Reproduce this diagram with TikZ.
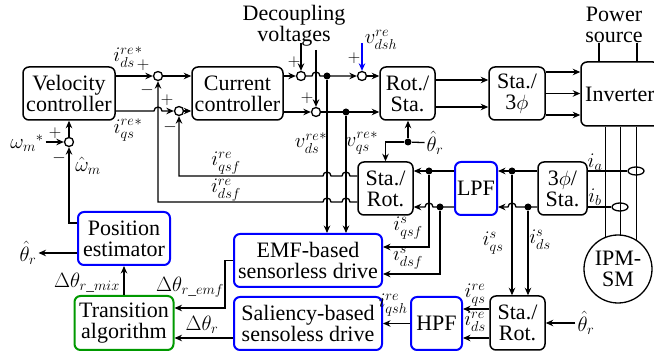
\documentclass[tikz,border=0pt]{standalone}
\usepackage{fontspec}
\setmainfont{Liberation Serif}
\usepackage{amsmath}
\usepackage{tikz}
\usetikzlibrary{arrows.meta, calc, positioning, backgrounds, shapes.geometric}

\tikzset{
  blk/.style={draw, rounded corners=6pt, align=center, inner sep=1pt, line width=1.5pt},
  bleu/.style={blk, draw=blue, line width=2pt},
  vert/.style={blk, draw=green!60!black, line width=2pt},
  somme/.style={draw, circle, minimum size=9pt, inner sep=0pt},
  jonction/.style={fill, circle, minimum size=7pt, inner sep=0pt},
  lab/.style={inner sep=1.5pt},
  signe/.style={inner sep=0pt, font=\fontsize{18}{18}\selectfont},
  capteur/.style={draw, ellipse, minimum width=16pt, minimum height=8pt, inner sep=0pt},
}

\begin{document}
\begin{tikzpicture}[x=1pt,y=-1pt,>={Stealth[length=7.5pt,width=6.5pt]},line width=1.3pt,font=\fontsize{22}{21}\selectfont]
            \useasboundingbox (0,0) rectangle (654,358);
            \clip (0,0) rectangle (654,358);

            % Blocs
            \node[blk, minimum width=92pt, minimum height=53pt] (vc) at (69,93.5) {Velocity\\controller};
            \node[blk, minimum width=91pt, minimum height=53pt] (cc) at (237.5,93.5) {Current\\controller};
            \node[blk, minimum width=55pt, minimum height=53pt] (rs) at (407.5,93.5) {Rot./\\Sta.};
            \node[blk, minimum width=56pt, minimum height=53pt] (s3) at (517,93.5) {Sta./\\3$\phi$};
            \node[blk, minimum width=78pt, minimum height=64pt] (inv) at (620,94) {Inverter};
            \node[blk, minimum width=55pt, minimum height=53pt] (sr1) at (385.5,188.5) {Sta./\\Rot.};
            \node[bleu, minimum width=42pt, minimum height=53pt] (lpf) at (476,188.5) {LPF};
            \node[blk, minimum width=49pt, minimum height=53pt] (s3b) at (562.5,188.5) {3$\phi$/\\Sta.};
            \node[blk, minimum width=55pt, minimum height=54pt] (sr2) at (517.5,323) {Sta./\\Rot.};
            \node[bleu, minimum width=51pt, minimum height=53pt] (hpf) at (436.5,323.5) {HPF};
            \node[bleu, minimum width=148pt, minimum height=53pt] (emf) at (308,260.5) {EMF-based\\sensorless drive};
            \node[bleu, minimum width=148pt, minimum height=53pt] (sal) at (308,323.5) {Saliency-based\\sensoless drive};
            \node[bleu, minimum width=92pt, minimum height=53pt] (pe) at (124,238.5) {Position\\estimator};
            \node[vert, minimum width=99pt, minimum height=54pt] (ta) at (124,323) {Transition\\algorithm};
            \node[draw, circle, minimum size=68pt, inner sep=0pt, align=center, fill=white] (mot) at (618,269) {IPM-\\SM};

            % Sommateurs et points
            \node[somme] (sd) at (158,76) {};
            \node[somme] (sq) at (179,111) {};
            \node[somme] (sw) at (69,142) {};
            \node[somme] (dd) at (301,76) {};
            \node[somme] (dq) at (316,112) {};
            \node[somme] (dh) at (362,76) {};
            \node[jonction] (p1) at (327,76) {};
            \node[jonction] (p2) at (346,112) {};
            \node[jonction] (p3) at (408,142) {};
            \node[jonction] (p4) at (429,171) {};
            \node[jonction] (p5) at (440,207) {};
            \node[jonction] (p6) at (512,171) {};
            \node[jonction] (p7) at (528,207) {};
            \node[capteur] (ca) at (636,171) {};
            \node[capteur] (cb) at (620,207) {};

            % Textes
            \node[align=center, inner sep=0pt] (dv) at (294,26) {Decoupling\\voltages};
            \node[align=center, inner sep=0pt] (ps) at (614,25) {Power\\source};
            \node[lab] (wm) at (27,143) {${\omega_m}^{*}$};
            \node[lab] (wh) at (88,166) {$\hat{\omega}_m$};
            \node[lab] (lidr) at (128,57) {${i_{ds}^{re}}^{*}$};
            \node[lab] (liqr) at (128,130) {${i_{qs}^{re}}^{*}$};
            \node[lab] (vh) at (381,40) {$v_{dsh}^{re}$};
            \node[lab] (lvd) at (311,143) {${v_{ds}^{re}}^{*}$};
            \node[lab] (lvq) at (362,143) {${v_{qs}^{re}}^{*}$};
            \node[lab] (liqf) at (226,163) {$i_{qsf}^{re}$};
            \node[lab] (lidf) at (226,190) {$i_{dsf}^{re}$};
            \node[lab] (liqfs) at (408,228) {$i_{qsf}^{s}$};
            \node[lab] (lidfs) at (408,258) {$i_{dsf}^{s}$};
            \node[lab] (liqs) at (493,243) {$i_{qs}^{s}$};
            \node[lab] (lids) at (540,240) {$i_{ds}^{s}$};
            \node[lab] (liqr2) at (475,295) {$i_{qs}^{re}$};
            \node[lab] (lidr2) at (475,322) {$i_{ds}^{re}$};
            \node[lab] (liqh) at (393,305) {$i_{qsh}^{re}$};
            \node[lab] (lia) at (595,162) {$i_a$};
            \node[lab] (lib) at (595,197) {$i_b$};
            \node[lab] (th1) at (435,143) {$\hat{\theta}_r$};
            \node[lab] (th2) at (28,253) {$\hat{\theta}_r$};
            \node[lab] (th3) at (586,323) {$\hat{\theta}_r$};
            \node[lab] (ldemf) at (190,287) {$\Delta\theta_{r\text{\_}emf}$};
            \node[lab] (ldmix) at (87,283) {$\Delta\theta_{r\text{\_}mix}$};
            \node[lab] (ldr) at (202,325) {$\Delta\theta_r$};
            \node[signe] (s1) at (143,65) {$+$};
            \node[signe] (s2) at (147,90) {$-$};
            \node[signe] (s3s) at (167,100) {$+$};
            \node[signe] (s4) at (170,127) {$-$};
            \node[signe] (s5) at (55,133) {$+$};
            \node[signe] (s6) at (59,158) {$-$};
            \node[signe] (s7) at (294,62) {$+$};
            \node[signe] (s8) at (307,98) {$+$};
            \node[signe] (s9) at (354,58) {$+$};

            % Boucle de vitesse
            \draw[->] (wm.east |- sw) -- (sw);
            \draw[->] (sw) -- (vc);
            \draw[->] ($(pe.west)+(0,-15.5)$) -| (sw);
            \draw[->] ($(pe.west)+(0,14.5)$) -- (th2);
            \draw[->] (ta) -- (pe);
            \draw[->] (vc.east |- sd) -- (sd);
            \draw[->] (vc.east |- sq) -- ($(sd |- sq)+(-4,0)$) arc(180:360:4) -- (sq);
            \draw[->] (sd) -- (cc.west |- sd);
            \draw[->] (sq) -- (cc.west |- sq);

            % Découplage et tensions
            \draw[->] (cc.east |- dd) -- (dd);
            \draw[->] (cc.east |- dq) -- (dq);
            \draw[->] ($(dd)+(0,-33)$) -- (dd);
            \draw[->] ($(dq)+(0,-62)$) -- (dq);
            \draw[->, blue] ($(dh)+(0,-33)$) -- (dh);
            \draw[->] (dd) -- ($(dq |- dd)+(-4,0)$) arc(180:360:4) -- (dh);
            \draw[->] (dh) -- (rs.west |- dh);
            \draw[->] (dq) -- (rs.west |- dq);
            \draw[->] (p1) -- (p1 |- emf.north);
            \draw[->] (p2) -- (p2 |- emf.north);
            \draw[->] ($(rs.east)+(0,-13.5)$) -- ($(s3.west)+(0,-13.5)$);
            \draw[->] ($(rs.east)+(0,13.5)$) -- ($(s3.west)+(0,13.5)$);
            \foreach \dy in {-21.5,0,21.5}
                \draw[->] ($(s3.east)+(0,\dy)$) -- ($(inv.west |- s3.east)+(0,\dy)$);
            \draw (599,0 |- ps.south) -- (599,0 |- inv.north);
            \draw (637,0 |- ps.south) -- (637,0 |- inv.north);
            \begin{scope}[on background layer]
                \foreach \xx in {605,620,636}
                    \draw (\xx,0 |- inv.south) -- (\xx,0 |- mot.center);
            \end{scope}

            % Angle estimé
            \draw (th1) -- (p3);
            \draw[->] (p3) -- (p3 |- rs.south);
            \draw[->] (p3) -| (sr1);

            % Courants mesurés
            \draw (s3b.east |- ca) -- (ca);
            \draw (s3b.east |- cb) -- (cb);
            \draw[->] (s3b.west |- p6) -- (lpf.east |- p6);
            \draw[->] (s3b.west |- p7) -- ($(p6 |- p7)+(4,0)$) arc(0:-180:4) -- (lpf.east |- p7);
            \draw[->] (lpf.west |- p4) -- (sr1.east |- p4);
            \draw[->] (lpf.west |- p5) -- ($(p4 |- p5)+(4,0)$) arc(0:-180:4) -- (sr1.east |- p5);
            \draw[->] (p4) |- ($(emf.east)+(0,-13.5)$);
            \draw[->] (p5) |- ($(emf.east)+(0,13.5)$);
            \draw[->] (p6) -- (p6 |- sr2.north);
            \draw[->] (p7) -- (p7 |- sr2.north);
            \draw[->] ($(sr2.west)+(0,-14)$) -- ($(hpf.east |- sr2.west)+(0,-14)$);
            \draw[->] ($(sr2.west)+(0,15)$) -- ($(hpf.east |- sr2.west)+(0,15)$);
            \draw[->] (th3) -- (sr2.east |- th3);
            \draw[->] (hpf) -- (sal);

            % Retours de courant
            \draw[->] (sr1.west |- 0,176) -- ($(p2 |- 0,176)+(4,0)$) arc(0:-180:4) -- ($(p1 |- 0,176)+(4,0)$) arc(0:-180:4) -- (sq |- 0,176) -- (sq);
            \draw[->] (sr1.west |- 0,202) -- ($(p2 |- 0,202)+(4,0)$) arc(0:-180:4) -- ($(p1 |- 0,202)+(4,0)$) arc(0:-180:4) -- (sd |- 0,202) -- (sd);

            % Estimation de position
            \draw[->] (emf.west) -- ++(-8,0) |- ($(ta.east)+(0,-15)$);
            \draw[->] ($(sal.west)+(0,14.5)$) -- ($(ta.east |- sal.west)+(0,14.5)$);
        \end{tikzpicture}
\end{document}
